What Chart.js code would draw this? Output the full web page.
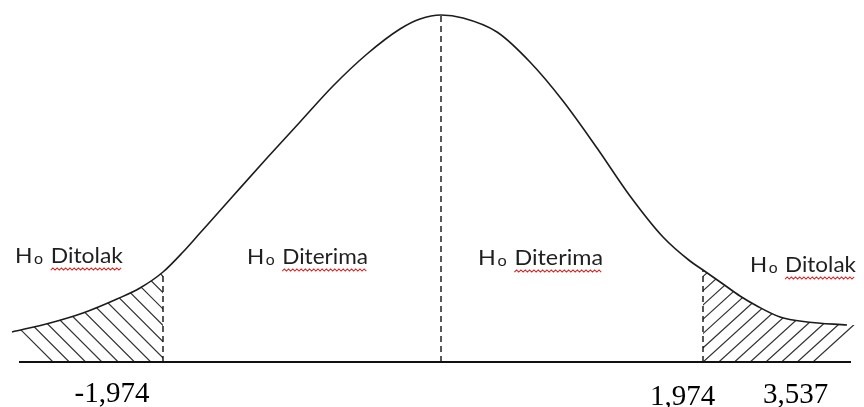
<!DOCTYPE html>
<html><head><meta charset="utf-8">
<script src="https://cdn.jsdelivr.net/npm/chart.js@4.4.1/dist/chart.umd.min.js"></script>
<style>html,body{margin:0;padding:0;background:#fff;}canvas{display:block}</style>
</head><body>
<canvas id="c" width="864" height="407"></canvas>
<script>
// ---- data ----
const curveX = [12,50,83,117,140,163,183,200,217,233,267,300,333,367,400,420,441,463,497,530,563,597,630,663,690,703,723,740,757,780,807,847];
const curveY = [30,39,49,63,74,90,110,129,148,166,204,240,276,308,333,343,347,344,330,300,261,214,166,125,101,92,78,66,56,45,40,37];
const baselineX = [19, 851];
const cutX = [163, 441, 703];
const zoneWords = ['Ditolak', 'Diterima', 'Diterima', 'Ditolak'];
const zoneX = [15, 247, 478, 750];
const zoneY = [99, 98, 97, 90];
const zoneW = [108, 121, 125, 106];
const tickLabels = ['-1,974', '1,974', '3,537'];
const tickX = [112, 682.5, 795.5];
const tickY = [-40, -43, -41];
const leftHatch = { from: 12, to: 163, firstBase: 53, step: 16.3 };
const rightHatch = { from: 703, to: 864, lastBase: 813, step: 15.7 };

const cutH = cutX.map(x => curveY[curveX.indexOf(x)]);

const datasets = [
  { data: curveX.map((x, i) => ({ x, y: curveY[i] })), showLine: true, borderColor: '#1c1c1c', borderWidth: 1.6,
    pointRadius: 0, cubicInterpolationMode: 'monotone', fill: false },
  { data: baselineX.map(x => ({ x, y: 0 })), showLine: true, borderColor: '#111', borderWidth: 2, pointRadius: 0 }
];
cutX.forEach((x, i) => datasets.push({
  data: [{ x, y: 0 }, { x, y: cutH[i] }], showLine: true, borderColor: '#111', borderWidth: 1.4,
  borderDash: [6, 4], pointRadius: 0
}));

const hatchPlugin = {
  id: 'hatch',
  beforeDatasetsDraw(chart) {
    const ctx = chart.ctx, xs = chart.scales.x, ys = chart.scales.y;
    const meta = chart.getDatasetMeta(0);
    const line = meta.dataset, pts = meta.data;
    const base = ys.getPixelForValue(0);
    const first = pts[0], last = pts[pts.length - 1];
    const region = () => {
      ctx.beginPath();
      line.path(ctx);
      ctx.lineTo(xs.getPixelForValue(rightHatch.to), last.y);
      ctx.lineTo(xs.getPixelForValue(rightHatch.to), base);
      ctx.lineTo(first.x, base);
      ctx.closePath();
    };
    ctx.save();
    ctx.strokeStyle = '#333';
    ctx.lineWidth = 1.2;
    ctx.save();
    region(); ctx.clip();
    const l0 = xs.getPixelForValue(leftHatch.from), l1 = xs.getPixelForValue(leftHatch.to);
    ctx.beginPath(); ctx.rect(l0, 0, l1 - l0, base); ctx.clip();
    ctx.beginPath();
    for (let k = 0; k < 16; k++) {
      const bx = xs.getPixelForValue(leftHatch.firstBase) + k * leftHatch.step;
      ctx.moveTo(bx, base); ctx.lineTo(bx - 160, base - 160);
    }
    ctx.stroke();
    ctx.restore();
    ctx.save();
    region(); ctx.clip();
    const r0 = xs.getPixelForValue(rightHatch.from), r1 = xs.getPixelForValue(rightHatch.to);
    ctx.beginPath(); ctx.rect(r0, 0, r1 - r0, base); ctx.clip();
    ctx.beginPath();
    for (let k = 0; k < 16; k++) {
      const bx = xs.getPixelForValue(rightHatch.lastBase) - k * rightHatch.step;
      ctx.moveTo(bx, base); ctx.lineTo(bx + 176, base - 160);
    }
    ctx.stroke();
    ctx.restore();
    ctx.restore();
  }
};

function zoneLabel(ctx, x, y, word, target) {
  const F = 21.5, fam = 'Lato, "Open Sans", sans-serif';
  const big = F + 'px ' + fam, small = Math.round(F * 0.68) + 'px ' + fam;
  ctx.font = big;
  const wH = ctx.measureText('H').width, wsp = ctx.measureText(' ').width * 1.3, ww = ctx.measureText(word).width;
  ctx.font = small;
  const wo = ctx.measureText('o').width;
  const gap = 1.5;
  const W = wH + gap + wo + wsp + ww;
  const s = target / W;
  ctx.save();
  ctx.translate(x, y); ctx.scale(s, 1);
  ctx.fillStyle = '#1f1f1f'; ctx.textAlign = 'left'; ctx.textBaseline = 'alphabetic';
  ctx.font = big; ctx.fillText('H', 0, 0);
  ctx.font = small; ctx.fillText('o', wH + gap, 1);
  ctx.font = big;
  const wx = wH + gap + wo + wsp;
  ctx.fillText(word, wx, 0);
  ctx.beginPath();
  ctx.strokeStyle = '#e02020'; ctx.lineWidth = 1;
  let i = 0;
  for (let t = 0; t <= ww; t += 2, i++) {
    const yy = 6 + (i % 2 ? -1.1 : 1.1);
    if (t === 0) ctx.moveTo(wx + t, yy); else ctx.lineTo(wx + t, yy);
  }
  ctx.stroke();
  ctx.restore();
}

const textPlugin = {
  id: 'texts',
  afterDraw(chart) {
    const ctx = chart.ctx, xs = chart.scales.x, ys = chart.scales.y;
    zoneWords.forEach((w, i) => zoneLabel(ctx, xs.getPixelForValue(zoneX[i]), ys.getPixelForValue(zoneY[i]), w, zoneW[i]));
    ctx.save();
    ctx.fillStyle = '#000'; ctx.font = '29px "Liberation Serif", "Times New Roman", serif';
    ctx.textAlign = 'center'; ctx.textBaseline = 'alphabetic';
    tickLabels.forEach((t, i) => ctx.fillText(t, xs.getPixelForValue(tickX[i]), ys.getPixelForValue(tickY[i])));
    ctx.restore();
  }
};

new Chart(document.getElementById('c'), {
  type: 'scatter',
  data: { datasets },
  options: {
    responsive: false, animation: false, devicePixelRatio: 1,
    layout: { padding: 0 },
    plugins: { legend: { display: false }, tooltip: { enabled: false } },
    scales: {
      x: { type: 'linear', min: 0, max: 864, display: false },
      y: { type: 'linear', min: -45, max: 362, display: false }
    }
  },
  plugins: [hatchPlugin, textPlugin]
});
</script>
</body></html>
